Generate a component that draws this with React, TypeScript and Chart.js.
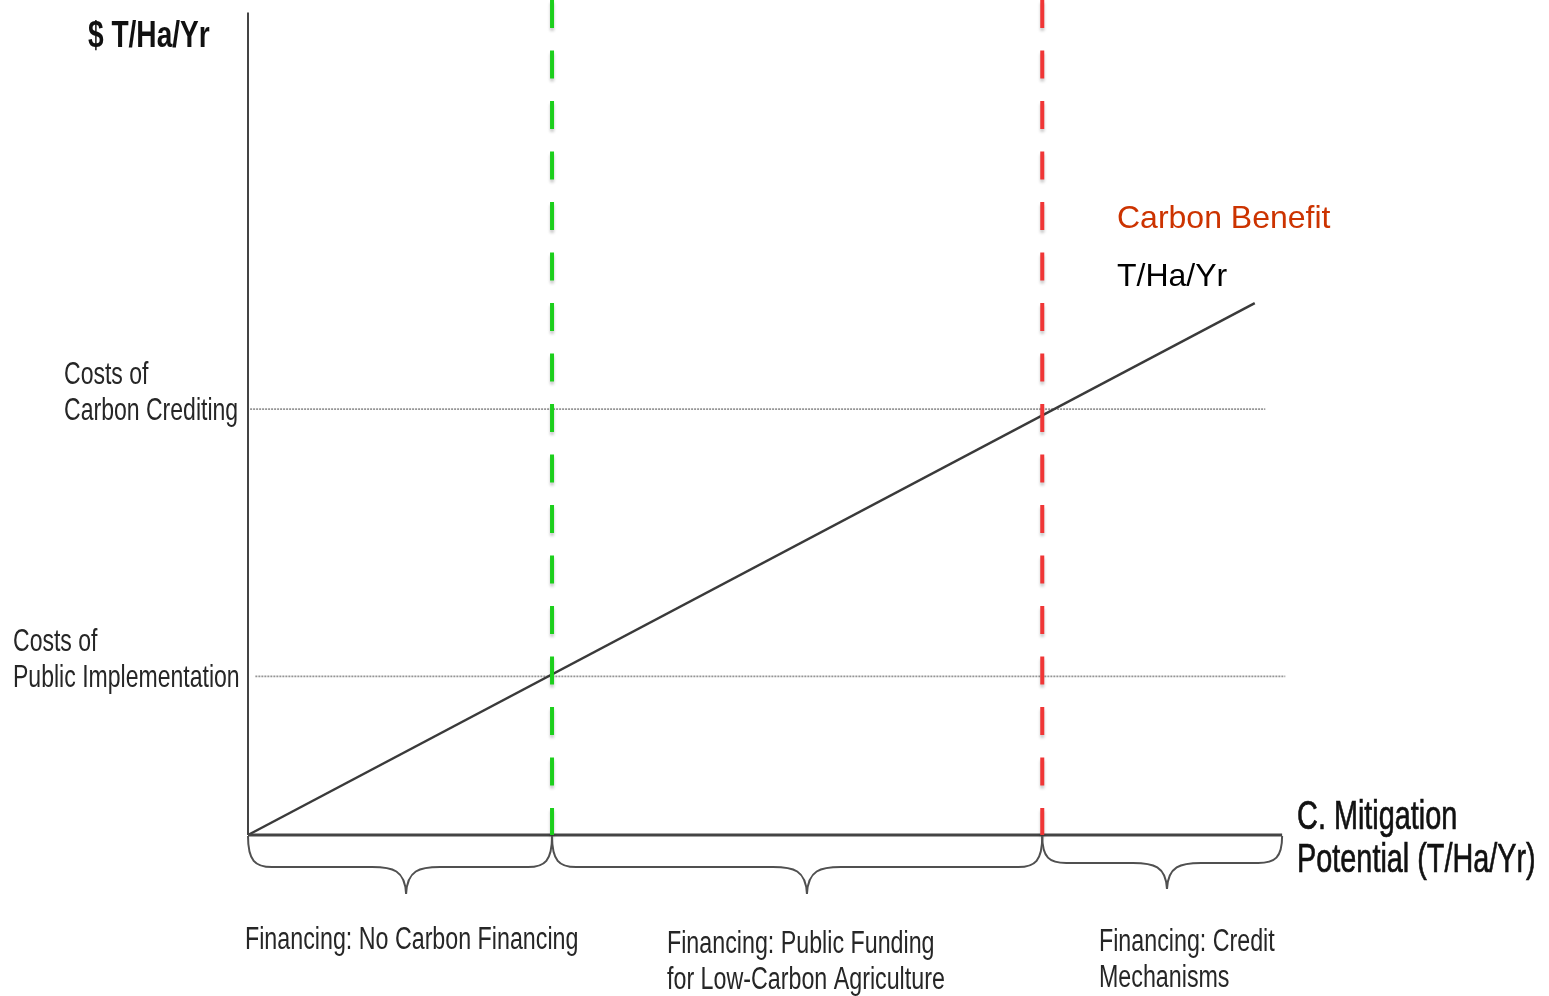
import { useEffect, useRef } from "react";
import { Chart, registerables } from "chart.js";

Chart.register(...registerables);

// Carbon benefit line (mitigation potential vs. value)
const benefitX = [0, 95.7];
const benefitY = [0, 63.7];

// Cost thresholds on the value axis
const costLevels = [19, 51];
const costLineStart = [0.7, 0.2];
const costLineEnd = [98.6, 96.7];
const costLabels = [
  ["Costs of", "Public Implementation"],
  ["Costs of", "Carbon Crediting"],
];

// Mitigation levels where the benefit meets each cost
const thresholds = [28.9, 75.5];
const thresholdColors = ["#1ccf1c", "#f03636"];

// Axis extents
const axisXEnd = 98.3;
const axisYEnd = 98.5;

const financingLabels = [
  ["Financing: No Carbon Financing"],
  ["Financing: Public Funding", "for Low-Carbon Agriculture"],
  ["Financing: Credit", "Mechanisms"],
];

const yAxisTitle = "$ T/Ha/Yr";
const xAxisTitle = ["C. Mitigation", "Potential (T/Ha/Yr)"];
const seriesTitle = "Carbon Benefit";
const seriesUnit = "T/Ha/Yr";

const FONT = '"Liberation Sans", Arial, sans-serif';

function drawText(
  ctx: CanvasRenderingContext2D,
  text: string,
  x: number,
  y: number,
  size: number,
  opts: { weight?: string; color?: string; sx?: number; stroke?: number } = {}
) {
  ctx.save();
  ctx.font = `${opts.weight ?? "normal"} ${size}px ${FONT}`;
  ctx.fillStyle = opts.color ?? "#262626";
  ctx.textBaseline = "middle";
  ctx.textAlign = "left";
  ctx.translate(x, y);
  ctx.scale(opts.sx ?? 1, 1);
  ctx.fillText(text, 0, 0);
  if (opts.stroke) {
    ctx.strokeStyle = opts.color ?? "#262626";
    ctx.lineWidth = opts.stroke;
    ctx.strokeText(text, 0, 0);
  }
  ctx.restore();
}

// Curly brace spanning x0..x1, hanging below `top`
function drawBrace(
  ctx: CanvasRenderingContext2D,
  x0: number,
  x1: number,
  top: number,
  bar: number,
  tip: number
) {
  const mid = x0 + (x1 - x0) * 0.52;
  const r = 24;
  const rt = 34;
  const b = top + bar;
  const t = top + tip;
  ctx.beginPath();
  ctx.moveTo(x0, top);
  ctx.bezierCurveTo(x0, top + bar * 0.8, x0 + r * 0.3, b, x0 + r, b);
  ctx.lineTo(mid - rt, b);
  ctx.bezierCurveTo(mid - rt * 0.4, b, mid - 1, b + 3, mid, t);
  ctx.bezierCurveTo(mid + 1, b + 3, mid + rt * 0.4, b, mid + rt, b);
  ctx.lineTo(x1 - r, b);
  ctx.bezierCurveTo(x1 - r * 0.3, b, x1, top + bar * 0.8, x1, top);
  ctx.stroke();
}

const dashShadow = {
  id: "dashShadow",
  beforeDatasetDraw(chart: Chart, args: { index: number }) {
    if (args.index < thresholds.length) {
      const ctx = chart.ctx;
      ctx.save();
      ctx.shadowColor = "rgba(0,0,0,0.22)";
      ctx.shadowBlur = 3;
      ctx.shadowOffsetY = 3;
    }
  },
  afterDatasetDraw(chart: Chart, args: { index: number }) {
    if (args.index < thresholds.length) chart.ctx.restore();
  },
};

const annotations = {
  id: "annotations",
  afterDraw(chart: Chart) {
    const ctx = chart.ctx;
    const xs = chart.scales.x;
    const ys = chart.scales.y;
    const axisY = ys.getPixelForValue(0);

    // Braces grouping the financing ranges
    const edges = [0, ...thresholds, axisXEnd].map((v) => xs.getPixelForValue(v));
    const bars = [31, 31, 27];
    const tips = [58, 58, 53];
    ctx.save();
    ctx.strokeStyle = "#505050";
    ctx.lineWidth = 2;
    for (let i = 0; i < edges.length - 1; i++) {
      drawBrace(ctx, edges[i], edges[i + 1], axisY + 1, bars[i], tips[i]);
    }
    ctx.restore();

    // Value axis title
    drawText(ctx, yAxisTitle, 88, 37, 36, { weight: "bold", color: "#111", sx: 0.78 });

    // Cost level labels
    const costLefts = [13, 64];
    costLevels.forEach((lvl, i) => {
      const py = ys.getPixelForValue(lvl);
      drawText(ctx, costLabels[i][0], costLefts[i], py - 34, 32, { sx: 0.72 });
      drawText(ctx, costLabels[i][1], costLefts[i], py + 2, 32, { sx: 0.72 });
    });

    // Mitigation axis title
    const tx = xs.getPixelForValue(axisXEnd) + 15;
    drawText(ctx, xAxisTitle[0], tx, axisY - 17, 40, { color: "#111", sx: 0.72, stroke: 0.7 });
    drawText(ctx, xAxisTitle[1], tx, axisY + 26, 40, { color: "#111", sx: 0.72, stroke: 0.7 });

    // Financing range labels
    const labelLefts = [245, 667, 1099];
    const labelTops = [940, 944, 942];
    financingLabels.forEach((lines, i) => {
      lines.forEach((t, j) => {
        drawText(ctx, t, labelLefts[i], labelTops[i] + j * 36, 31, { sx: 0.75 });
      });
    });

    // Series caption
    drawText(ctx, seriesTitle, 1117, 219, 32, { color: "#cc3300" });
    drawText(ctx, seriesUnit, 1117, 277, 32, { color: "#000" });
  },
};

export default function App() {
  const canvasRef = useRef<HTMLCanvasElement | null>(null);

  useEffect(() => {
    const canvas = canvasRef.current;
    if (!canvas) return;

    const costSets = costLevels.map((lvl, i) => ({
      label: costLabels[i].join(" "),
      data: [
        { x: costLineStart[i], y: lvl },
        { x: costLineEnd[i], y: lvl },
      ],
      borderColor: "#959595",
      borderWidth: 1.6,
      borderDash: [2, 1],
      order: 6,
    }));

    const thresholdSets = thresholds.map((t, i) => ({
      label: `threshold ${i + 1}`,
      data: [
        { x: t, y: 100 },
        { x: t, y: 0 },
      ],
      borderColor: thresholdColors[i],
      borderWidth: 4,
      borderDash: [28, 22.5],
      borderCapStyle: "butt" as const,
      order: 1,
    }));

    const chart = new Chart(canvas, {
      type: "scatter",
      data: {
        datasets: [
          ...thresholdSets,
          {
            label: "mitigation axis",
            data: [
              { x: 0, y: 0 },
              { x: axisXEnd, y: 0 },
            ],
            borderColor: "#444",
            borderWidth: 3,
            order: 2,
          },
          {
            label: seriesTitle,
            data: benefitX.map((x, i) => ({ x, y: benefitY[i] })),
            borderColor: "#3a3a3a",
            borderWidth: 2.5,
            order: 3,
          },
          {
            label: "value axis",
            data: [
              { x: 0, y: 0 },
              { x: 0, y: axisYEnd },
            ],
            borderColor: "#444",
            borderWidth: 2,
            order: 4,
          },
          ...costSets,
        ].map((d) => ({
          ...d,
          showLine: true,
          pointRadius: 0,
          pointHoverRadius: 0,
          fill: false,
          tension: 0,
          clip: false as const,
        })),
      },
      options: {
        responsive: false,
        animation: false,
        events: [],
        layout: { padding: { left: 248, right: 249, top: 0, bottom: 161 } },
        scales: {
          x: { type: "linear", min: 0, max: 100, display: false },
          y: { type: "linear", min: 0, max: 100, display: false },
        },
        plugins: {
          legend: { display: false },
          tooltip: { enabled: false },
        },
      },
      plugins: [dashShadow, annotations],
    });

    return () => chart.destroy();
  }, []);

  return (
    <div style={{ position: "fixed", left: 0, top: 0, width: 1549, height: 996, background: "#fff" }}>
      <canvas ref={canvasRef} width={1549} height={996} style={{ display: "block" }} />
    </div>
  );
}
